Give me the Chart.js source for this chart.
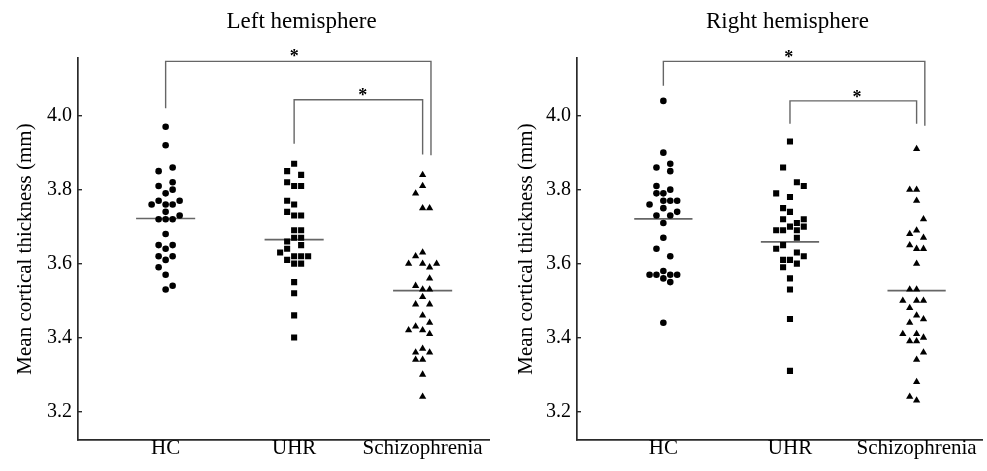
<!DOCTYPE html>
<html>
<head>
<meta charset="utf-8">
<script src="https://cdn.jsdelivr.net/npm/chart.js@4.4.1/dist/chart.umd.min.js"></script>
<style>
  html, body { margin: 0; padding: 0; background: #fff; }
  #wrap { position: relative; width: 987px; height: 471px; }
  #left { position: absolute; left: 0; top: 0; }
  #right { position: absolute; left: 494px; top: 0; }
</style>
</head>
<body>
<div id="wrap">
  <canvas id="left" width="494" height="471"></canvas>
  <canvas id="right" width="493" height="471"></canvas>
</div>
<script>
const GROUPS = ['HC', 'UHR', 'Schizophrenia'];
const Y_TICKS = [3.2, 3.4, 3.6, 3.8, 4.0];

// left hemisphere, values and beeswarm slot (column) of each marker
const LEFT_HC = [3.97, 3.92, 3.85, 3.86, 3.81, 3.82, 3.79, 3.80, 3.76, 3.77, 3.76, 3.76, 3.77, 3.74, 3.72, 3.72, 3.72, 3.73, 3.68, 3.65, 3.65, 3.64, 3.62, 3.62, 3.61, 3.59, 3.57, 3.54, 3.53];
const LEFT_HC_SLOT = [0, 0, -1, 1, -1, 1, 0, 1, -2, -1, 0, 1, 2, 0, -1, 0, 1, 2, 0, -1, 1, 0, -1, 1, 0, -1, 0, 1, 0];
const LEFT_UHR = [3.87, 3.85, 3.84, 3.82, 3.81, 3.81, 3.77, 3.76, 3.74, 3.73, 3.73, 3.69, 3.69, 3.67, 3.67, 3.66, 3.65, 3.64, 3.63, 3.61, 3.62, 3.62, 3.62, 3.60, 3.60, 3.55, 3.52, 3.46, 3.40];
const LEFT_UHR_SLOT = [0, -1, 1, -1, 0, 1, -1, 0, -1, 0, 1, 0, 1, 0, 1, -1, 1, -1, -2, -1, 0, 1, 2, 0, 1, 0, 0, 0, 0];
const LEFT_SZ = [3.84, 3.81, 3.79, 3.75, 3.75, 3.63, 3.62, 3.60, 3.60, 3.59, 3.60, 3.56, 3.54, 3.53, 3.53, 3.51, 3.49, 3.49, 3.46, 3.44, 3.43, 3.42, 3.42, 3.41, 3.37, 3.36, 3.36, 3.34, 3.34, 3.30, 3.24];
const LEFT_SZ_SLOT = [0, 0, -1, 0, 1, 0, -1, -2, 0, 1, 2, 1, -1, 0, 1, 0, -1, 1, 0, 1, -1, -2, 0, 1, 0, -1, 1, -1, 0, 0, 0];
const LEFT_MEANS = [3.722, 3.665, 3.527];

// right hemisphere
const RIGHT_HC = [4.04, 3.90, 3.86, 3.87, 3.85, 3.81, 3.80, 3.79, 3.79, 3.76, 3.77, 3.77, 3.77, 3.75, 3.73, 3.73, 3.74, 3.71, 3.67, 3.64, 3.62, 3.57, 3.57, 3.58, 3.57, 3.57, 3.56, 3.55, 3.44];
const RIGHT_HC_SLOT = [0, 0, -1, 1, 1, -1, 1, 0, -1, -2, 0, 1, 2, 0, -1, 1, 2, 0, 0, -1, 1, -2, -1, 0, 1, 2, 0, 1, 0];
const RIGHT_UHR = [3.93, 3.86, 3.82, 3.81, 3.79, 3.78, 3.75, 3.74, 3.72, 3.72, 3.71, 3.69, 3.69, 3.70, 3.69, 3.70, 3.67, 3.65, 3.64, 3.63, 3.62, 3.61, 3.61, 3.60, 3.59, 3.56, 3.53, 3.45, 3.31];
const RIGHT_UHR_SLOT = [0, -1, 1, 2, -2, 0, -1, 0, -1, 2, 1, -2, -1, 0, 1, 2, 1, -1, -2, 1, 2, -1, 0, 1, -1, 0, 0, 0, 0];
const RIGHT_SZ = [3.91, 3.80, 3.80, 3.77, 3.72, 3.68, 3.69, 3.67, 3.65, 3.64, 3.64, 3.60, 3.53, 3.53, 3.50, 3.50, 3.50, 3.48, 3.46, 3.45, 3.44, 3.41, 3.41, 3.39, 3.39, 3.40, 3.36, 3.34, 3.28, 3.24, 3.23];
const RIGHT_SZ_SLOT = [0, -1, 0, 0, 1, -1, 0, 1, -1, 0, 1, 0, -1, 0, -2, 0, 1, -1, 0, 1, -1, -2, 0, -1, 0, 1, 1, 0, 0, -1, 0];
const RIGHT_MEANS = [3.721, 3.659, 3.527];

// significance brackets: [x1, y1 (drop), yTop, x2, y2 (drop)]
const LEFT_BRACKETS = [[1, 4.02, 4.147, 3.065, 3.893], [2, 3.924, 4.043, 3, 3.895]];
const RIGHT_BRACKETS = [[1, 4.081, 4.147, 3.065, 3.973], [2, 3.978, 4.04, 3, 3.978]];
const LEFT_STARS = [[2, 4.17], [2.535, 4.063]];
const RIGHT_STARS = [[1.99, 4.167], [2.53, 4.06]];

const SLOT = 0.0545;
const FONT = '"Liberation Serif", "Times New Roman", serif';

function swarm(vals, slots, g) {
  return vals.map((v, i) => ({x: g + 1 + slots[i] * SLOT, y: v}));
}

const annotate = {
  id: 'annotate',
  afterDraw(chart, args, o) {
    const {ctx} = chart;
    const x = chart.scales.x, y = chart.scales.y;
    ctx.save();
    ctx.fillStyle = '#000';
    ctx.textAlign = 'center';
    ctx.font = '23px ' + FONT;
    ctx.fillText(o.title, x.getPixelForValue(o.titleX), 28);
    ctx.font = 'bold 18px ' + FONT;
    o.stars.forEach(s => {
      ctx.fillText('*', x.getPixelForValue(s[0]), y.getPixelForValue(s[1]) + 9);
    });
    ctx.restore();
  }
};

function makePanel(id, title, titleX, groups, means, brackets, stars, axisW, titlePad, padRight) {
  const styles = ['circle', 'rect', 'triangle'];
  const radii = [3.3, 4.3, 4.2];
  const datasets = [];
  groups.forEach((g, i) => {
    datasets.push({
      data: swarm(g[0], g[1], i),
      pointStyle: styles[i],
      pointRadius: radii[i],
      backgroundColor: '#000',
      borderColor: '#000',
      borderWidth: 0
    });
  });
  means.forEach((m, i) => {
    datasets.push({
      data: [{x: i + 1 - 0.23, y: m}, {x: i + 1 + 0.23, y: m}],
      showLine: true,
      pointRadius: 0,
      borderColor: '#666',
      borderWidth: 1.7
    });
  });
  brackets.forEach(b => {
    datasets.push({
      data: [{x: b[0], y: b[1]}, {x: b[0], y: b[2]}, {x: b[3], y: b[2]}, {x: b[3], y: b[4]}],
      showLine: true,
      pointRadius: 0,
      borderColor: '#666',
      borderWidth: 1.4
    });
  });

  new Chart(document.getElementById(id), {
    type: 'scatter',
    data: {datasets},
    options: {
      responsive: false,
      animation: false,
      events: [],
      layout: {padding: {top: 58, right: padRight, left: 0, bottom: 0}},
      plugins: {
        legend: {display: false},
        tooltip: {enabled: false},
        annotate: {title, titleX, stars}
      },
      scales: {
        x: {
          type: 'linear',
          min: 0.318,
          max: 3.522,
          afterFit: s => { s.height = 31; },
          afterBuildTicks: s => { s.ticks = [1, 2, 3].map(v => ({value: v})); },
          grid: {display: false, drawTicks: false},
          border: {display: true, color: '#2a2a2a', width: 1.7},
          ticks: {
            color: '#000',
            padding: -4,
            maxRotation: 0,
            autoSkip: false,
            font: {family: FONT, size: 21},
            callback: v => GROUPS[v - 1]
          }
        },
        y: {
          min: 3.123,
          max: 4.156,
          afterFit: s => { s.width = axisW; },
          afterBuildTicks: s => { s.ticks = Y_TICKS.map(v => ({value: v})); },
          grid: {display: true, drawOnChartArea: false, drawTicks: true, tickLength: -4, color: '#2a2a2a', lineWidth: 1.4},
          border: {display: true, color: '#2a2a2a', width: 1.7},
          ticks: {
            color: '#000',
            padding: 10,
            font: {family: FONT, size: 20},
            callback: v => v.toFixed(1)
          },
          title: {
            display: true,
            text: 'Mean cortical thickness (mm)',
            color: '#000',
            padding: {top: titlePad, bottom: 0},
            font: {family: FONT, size: 21}
          }
        }
      }
    },
    plugins: [annotate]
  });
}

makePanel('left', 'Left hemisphere', 2.058,
  [[LEFT_HC, LEFT_HC_SLOT], [LEFT_UHR, LEFT_UHR_SLOT], [LEFT_SZ, LEFT_SZ_SLOT]],
  LEFT_MEANS, LEFT_BRACKETS, LEFT_STARS, 78, 12.4, 4);
makePanel('right', 'Right hemisphere', 1.98,
  [[RIGHT_HC, RIGHT_HC_SLOT], [RIGHT_UHR, RIGHT_UHR_SLOT], [RIGHT_SZ, RIGHT_SZ_SLOT]],
  RIGHT_MEANS, RIGHT_BRACKETS, RIGHT_STARS, 83, 19.9, 0);
</script>
</body>
</html>
